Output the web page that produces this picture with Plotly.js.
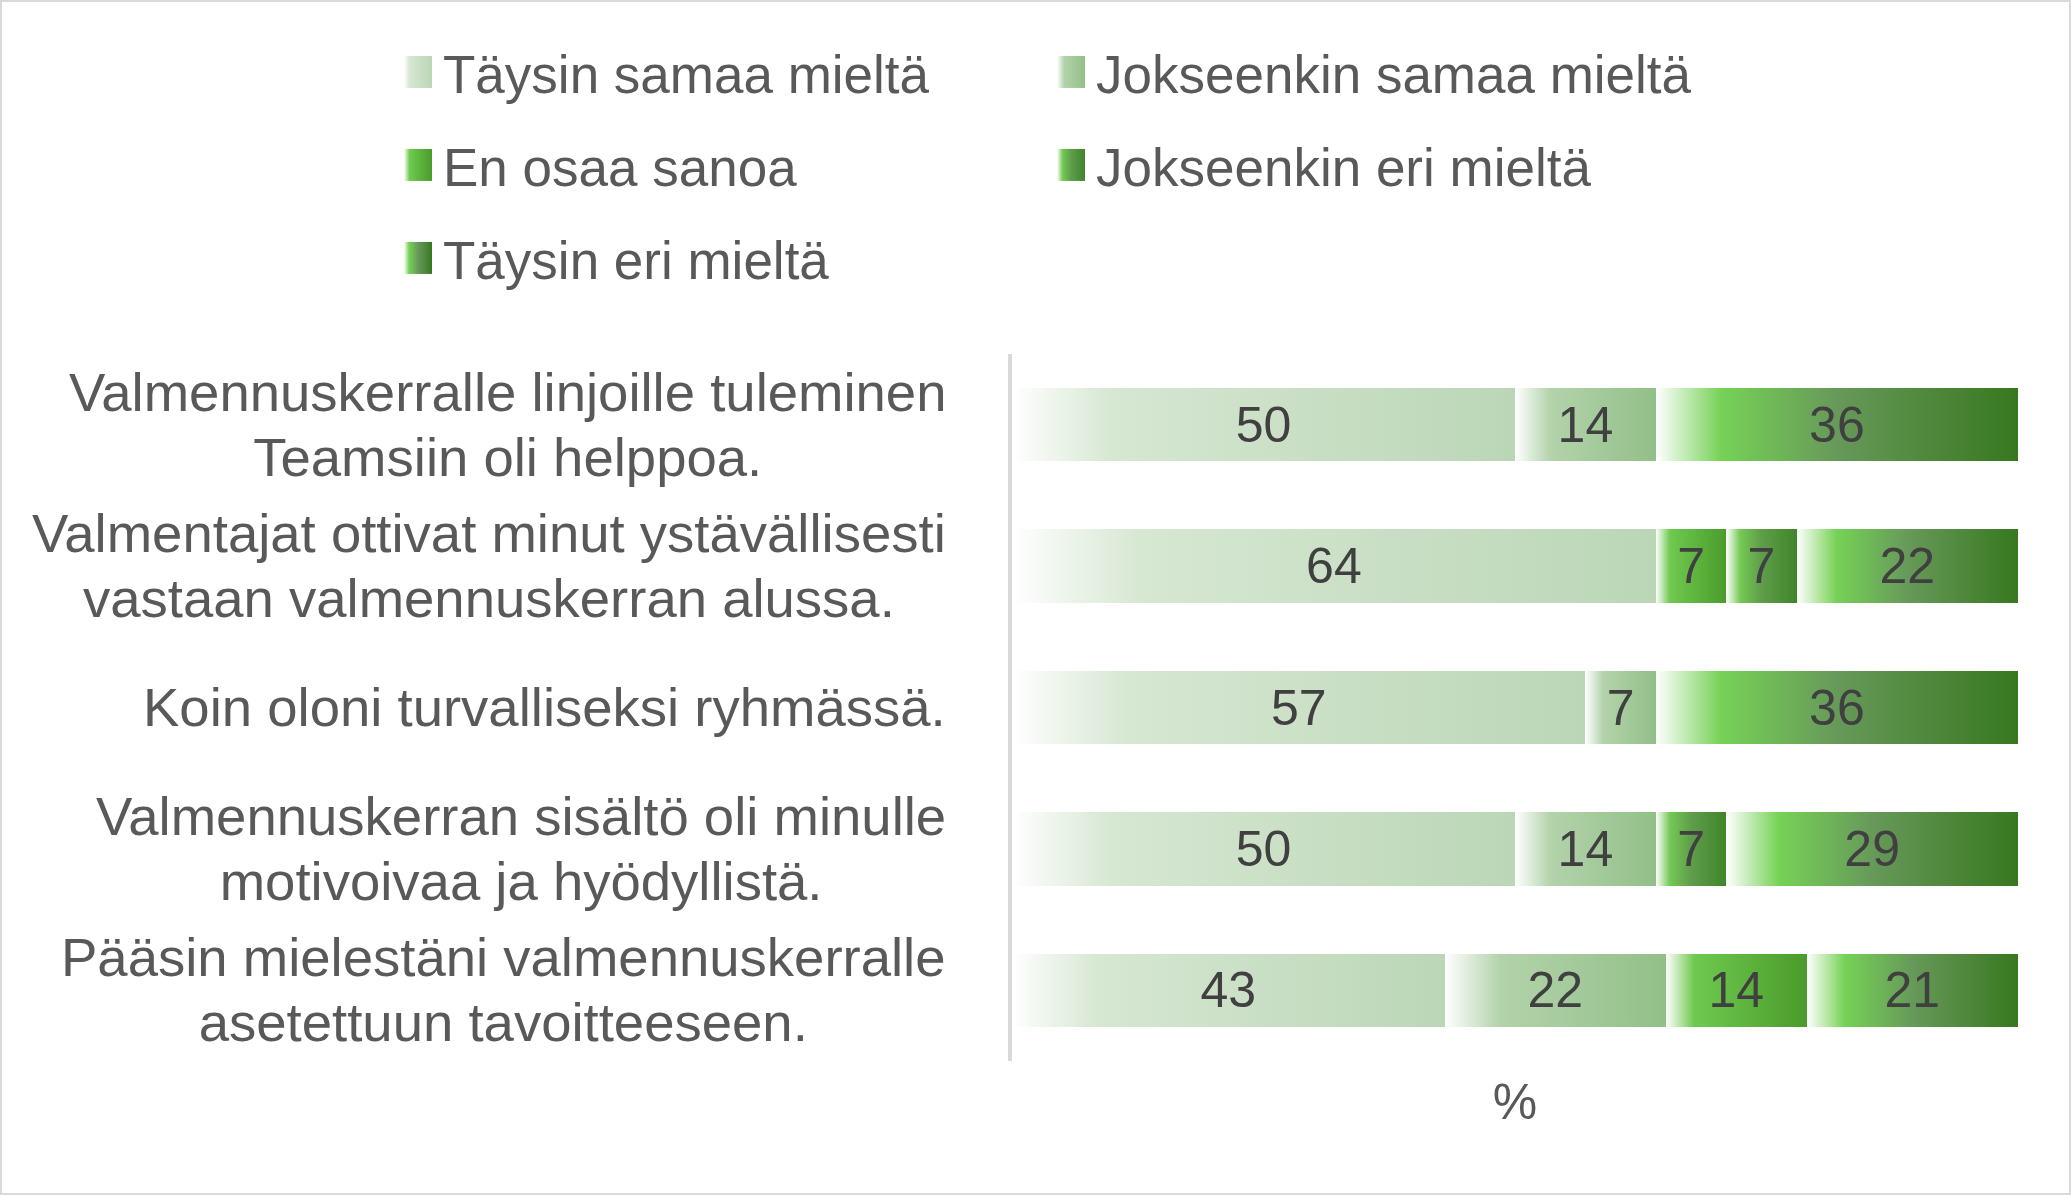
<!DOCTYPE html>
<html>
<head>
<meta charset="utf-8">
<script src="https://cdn.plot.ly/plotly-3.0.1.min.js"></script>
<style>
html, body { margin: 0; padding: 0; background: #ffffff; }
#chart { width: 2071px; height: 1195px; }
</style>
</head>
<body>
<div id="chart"></div>
<script>
// ---------- DATA ----------
const categories = [
  "Valmennuskerralle linjoille tuleminen<br>Teamsiin oli helppoa.",
  "Valmentajat ottivat minut ystävällisesti<br>vastaan valmennuskerran alussa.",
  "Koin oloni turvalliseksi ryhmässä.",
  "Valmennuskerran sisältö oli minulle<br>motivoivaa ja hyödyllistä.",
  "Pääsin mielestäni valmennuskerralle<br>asetettuun tavoitteeseen."
];
const seriesNames = [
  "Täysin samaa mieltä",
  "Jokseenkin samaa mieltä",
  "En osaa sanoa",
  "Jokseenkin eri mieltä",
  "Täysin eri mieltä"
];
const taysinSamaa     = [50, 64, 57, 50, 43];
const jokseenkinSamaa = [14,  0,  7, 14, 22];
const enOsaaSanoa     = [ 0,  7,  0,  0, 14];
const jokseenkinEri   = [ 0,  7,  0,  7,  0];
const taysinEri       = [36, 22, 36, 29, 21];
const axisTitle = "%";

// ---------- STYLE ----------
const FONT = "Liberation Sans, Arial, sans-serif";
const gradientStops = [
  [[0, "#ffffff"], [0.2, "#d6e7d2"], [1, "#bbd6b7"]],
  [[0, "#ffffff"], [0.25, "#b3d3ab"], [1, "#92bf88"]],
  [[0, "#ffffff"], [0.2, "#6fc94f"], [1, "#4a9b2b"]],
  [[0, "#ffffff"], [0.2, "#74c955"], [0.5, "#5f9d4a"], [1, "#3f852a"]],
  [[0, "#ffffff"], [0.18, "#76d256"], [0.5, "#67995a"], [1, "#37781f"]]
];
const solidFallback = ["#c8dfc4", "#a6cb9d", "#5cb03c", "#58a040", "#5a9a40"];

const seriesValues = [taysinSamaa, jokseenkinSamaa, enOsaaSanoa, jokseenkinEri, taysinEri];

const W = 2071, H = 1195;
const M = { l: 1012, r: 53, t: 354, b: 134 };
const PW = W - M.l - M.r, PH = H - M.t - M.b;
const px2x = px => (px - M.l) / PW;
const py2y = py => (H - M.b - py) / PH;

const legendIds = ["legend", "legend2", "legend3", "legend4", "legend5"];
const legendPos = [
  [403, 72], [1056, 72],
  [403, 165], [1056, 165],
  [403, 258]
];
const LABEL_LINE_EM = 1.19;

const traces = seriesValues.map((vals, i) => ({
  type: "bar",
  orientation: "h",
  name: seriesNames[i],
  y: categories,
  x: vals,
  text: vals.map(v => (v ? String(v) : "")),
  textposition: "inside",
  insidetextanchor: "middle",
  textangle: 0,
  constraintext: "none",
  textfont: { family: FONT, size: 50, color: "#404040" },
  marker: { color: solidFallback[i], line: { width: 0 } },
  hoverinfo: "skip",
  legend: legendIds[i],
  showlegend: true
}));

const layout = {
  width: W,
  height: H,
  margin: M,
  showlegend: true,
  paper_bgcolor: "#ffffff",
  plot_bgcolor: "#ffffff",
  barmode: "stack",
  bargap: 0.48,
  font: { family: FONT, color: "#595959" },
  xaxis: {
    range: [0, 100],
    showticklabels: false,
    showgrid: false,
    zeroline: false,
    showline: false,
    ticks: "",
    fixedrange: true,
    title: { text: axisTitle, font: { family: FONT, size: 50, color: "#595959" }, standoff: 22 }
  },
  yaxis: {
    type: "category",
    autorange: "reversed",
    showticklabels: false,
    showgrid: false,
    zeroline: false,
    showline: true,
    linecolor: "#d9d9d9",
    linewidth: 4,
    ticks: "",
    fixedrange: true
  },
  annotations: categories.map(c => ({
    xref: "paper", yref: "y",
    x: px2x(948), y: c,
    xanchor: "right", yanchor: "middle",
    align: "center",
    text: c,
    showarrow: false,
    font: { family: FONT, size: 54.5, color: "#595959" }
  })),
  shapes: [{
    type: "rect", xref: "paper", yref: "paper",
    x0: px2x(1), x1: px2x(W - 1), y0: py2y(H - 1), y1: py2y(1),
    line: { color: "#d9d9d9", width: 2 },
    fillcolor: "rgba(0,0,0,0)",
    layer: "below"
  }]
};

legendIds.forEach((id, i) => {
  layout[id] = {
    x: px2x(legendPos[i][0]),
    y: py2y(legendPos[i][1]),
    xanchor: "left",
    yanchor: "middle",
    orientation: "v",
    bgcolor: "rgba(0,0,0,0)",
    borderwidth: 0,
    font: { family: FONT, size: 53, color: "#595959" }
  };
});

const SVGNS = "http://www.w3.org/2000/svg";

function seriesIndexOfLegendPath(p) {
  let node = p;
  while (node && node.getAttribute) {
    const d = node.__data__;
    if (Array.isArray(d) && d[0] && d[0].trace && typeof d[0].trace.index === "number") {
      return d[0].trace.index;
    }
    const cls = node.getAttribute("class") || "";
    const m = cls.split(/\s+/).map(c => legendIds.indexOf(c)).find(k => k >= 0);
    if (m !== undefined) return m;
    node = node.parentNode;
  }
  return -1;
}

function applyGradients() {
  const svg = document.querySelector("#chart .main-svg");
  if (!svg) return;
  let defs = svg.querySelector("defs");
  if (!defs) {
    defs = document.createElementNS(SVGNS, "defs");
    svg.insertBefore(defs, svg.firstChild);
  }
  gradientStops.forEach((stops, i) => {
    const id = "gradSeries" + i;
    if (document.getElementById(id)) return;
    const g = document.createElementNS(SVGNS, "linearGradient");
    g.setAttribute("id", id);
    g.setAttribute("x1", "0"); g.setAttribute("y1", "0");
    g.setAttribute("x2", "1"); g.setAttribute("y2", "0");
    stops.forEach(s => {
      const st = document.createElementNS(SVGNS, "stop");
      st.setAttribute("offset", s[0]);
      st.setAttribute("stop-color", s[1]);
      g.appendChild(st);
    });
    defs.appendChild(g);
  });
  // bars
  document.querySelectorAll("#chart .barlayer .trace.bars").forEach((t, i) => {
    t.querySelectorAll(".point path").forEach(p => {
      p.style.fill = "url(#gradSeries" + i + ")";
    });
  });
  // legend swatches (tall gradient rectangles)
  document.querySelectorAll("#chart .legendpoints path").forEach(p => {
    const idx = seriesIndexOfLegendPath(p);
    if (idx < 0 || idx >= gradientStops.length) return;
    p.setAttribute("d", "M9,16H-19V-16H9Z");
    p.style.fill = "url(#gradSeries" + idx + ")";
    p.style.stroke = "none";
  });
  // tighter line spacing for category labels
  document.querySelectorAll("#chart .annotation-text").forEach(t => {
    const lines = t.querySelectorAll("tspan.line");
    const n = lines.length;
    if (n < 2) return;
    const off = (n - 1) * (1.3 - LABEL_LINE_EM) / 2;
    lines.forEach((ln, k) => {
      ln.setAttribute("dy", (k * LABEL_LINE_EM + off).toFixed(3) + "em");
    });
  });
}

const gd = document.getElementById("chart");
Plotly.newPlot(gd, traces, layout, { staticPlot: true, displayModeBar: false }).then(() => {
  applyGradients();
  gd.on && gd.on("plotly_afterplot", applyGradients);
  [0, 50, 200, 500, 1000].forEach(t => setTimeout(applyGradients, t));
});
</script>
</body>
</html>
